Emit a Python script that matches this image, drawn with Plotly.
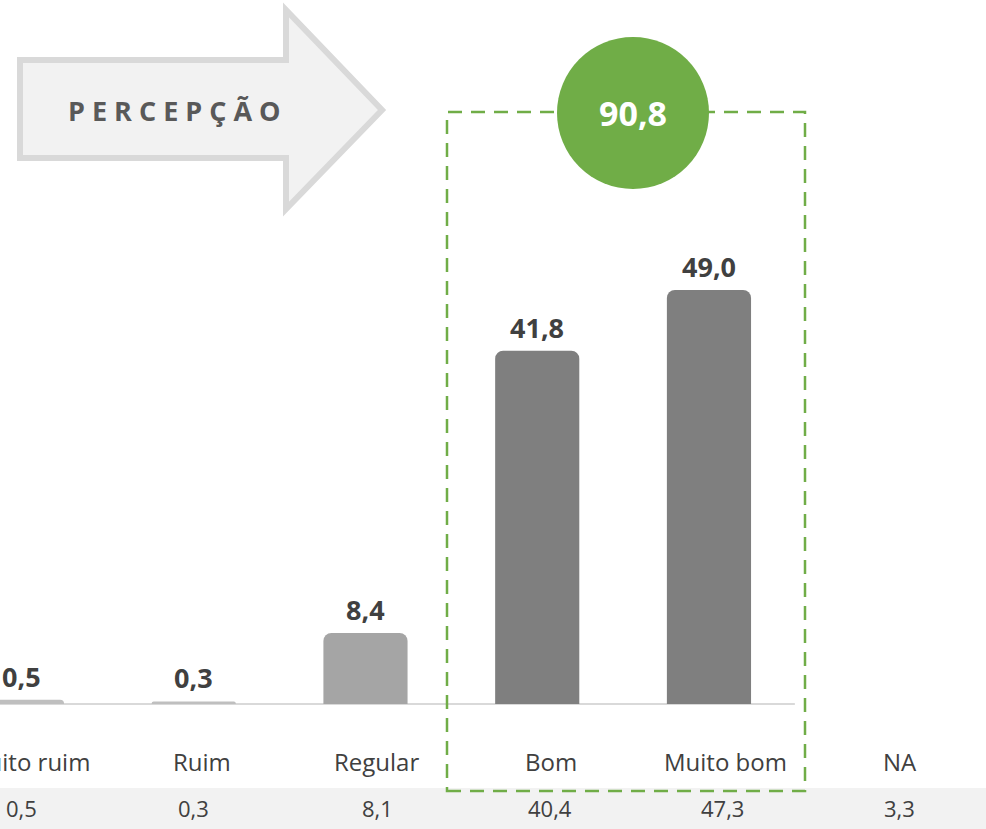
import plotly.graph_objects as go

categories = ["Muito ruim", "Ruim", "Regular", "Bom", "Muito bom", "NA"]
bar_values = [0.5, 0.3, 8.4, 41.8, 49.0, None]
table_values = [0.5, 0.3, 8.1, 40.4, 47.3, 3.3]
bar_colors = ["#bfbfbf", "#bfbfbf", "#a5a5a5", "#7f7f7f", "#7f7f7f", "#7f7f7f"]
total_positive = 90.8
title_text = "PERCEPÇÃO"

W, H = 986, 829


def fmt(v):
    return f"{v:.1f}".replace(".", ",")


def px(x):
    return x / W


def py(y):
    return 1 - y / H


xs = list(range(len(categories)))

fig = go.Figure()
fig.add_trace(go.Bar(
    x=xs, y=bar_values, width=0.49,
    marker=dict(color=bar_colors, line=dict(width=0)),
    hoverinfo="skip",
))

annotations = []
for i, v in enumerate(bar_values):
    if v is None:
        continue
    annotations.append(dict(
        x=i, y=v, xref="x", yref="y", text=f"<b>{fmt(v)}</b>", showarrow=False,
        xanchor="center", yanchor="bottom", yshift=3,
        font=dict(family="Open Sans", size=27, color="#404040"),
    ))

for i, c in enumerate(categories):
    shift = 6 + 2.6 * i
    annotations.append(dict(
        x=i, y=py(761), xref="x", yref="paper", text=c, showarrow=False,
        xanchor="center", yanchor="middle", xshift=shift,
        font=dict(family="Open Sans", size=24, color="#404040"),
    ))

table_shift = [0, 0, 12, 13, 14, 19]
for i, v in enumerate(table_values):
    annotations.append(dict(
        x=i, y=py(808), xref="x", yref="paper", text=fmt(v), showarrow=False,
        xanchor="center", yanchor="middle", xshift=table_shift[i],
        font=dict(family="Open Sans", size=22, color="#404040"),
    ))

annotations.append(dict(
    x=px(174), y=py(110), xref="paper", yref="paper",
    text="<b>" + "\u00a0".join(title_text) + "</b>", showarrow=False,
    xanchor="center", yanchor="middle",
    font=dict(family="Open Sans", size=27, color="#595959"),
))
annotations.append(dict(
    x=px(633), y=py(113), xref="paper", yref="paper",
    text=f"<b>{fmt(total_positive)}</b>", showarrow=False,
    xanchor="center", yanchor="middle",
    font=dict(family="Open Sans", size=34, color="#ffffff"),
))

arrow_pts = [(20, 60), (286, 60), (286, 10), (382, 110), (286, 209), (286, 158), (20, 158)]
arrow_path = "M " + " L ".join(f"{px(a):.5f},{py(b):.5f}" for a, b in arrow_pts) + " Z"

shapes = [
    dict(type="rect", xref="paper", yref="paper", x0=0, x1=1, y0=0, y1=py(788),
         fillcolor="#f2f2f2", line=dict(width=0), layer="below"),
    dict(type="line", xref="x", yref="y", x0=-0.5, x1=4.5, y0=0, y1=0,
         line=dict(color="#d9d9d9", width=2), layer="below"),
    dict(type="path", xref="paper", yref="paper", path=arrow_path,
         fillcolor="#f2f2f2", line=dict(color="#d9d9d9", width=6)),
    dict(type="rect", xref="paper", yref="paper", x0=px(447), x1=px(805), y0=py(791), y1=py(112),
         line=dict(color="#70ad47", width=2.5, dash="14px,9px"), fillcolor="rgba(0,0,0,0)"),
    dict(type="circle", xref="paper", yref="paper", x0=px(557), x1=px(709), y0=py(189), y1=py(37),
         fillcolor="#70ad47", line=dict(width=0)),
]

fig.update_layout(
    width=W, height=H,
    margin=dict(l=0, r=0, t=0, b=0),
    paper_bgcolor="white", plot_bgcolor="white",
    showlegend=False,
    barcornerradius=8,
    xaxis=dict(range=[-0.128, 5.613], visible=False, fixedrange=True),
    yaxis=dict(range=[-14.79, 83.31], visible=False, fixedrange=True),
    annotations=annotations,
    shapes=shapes,
)

fig.write_html("out.html")
